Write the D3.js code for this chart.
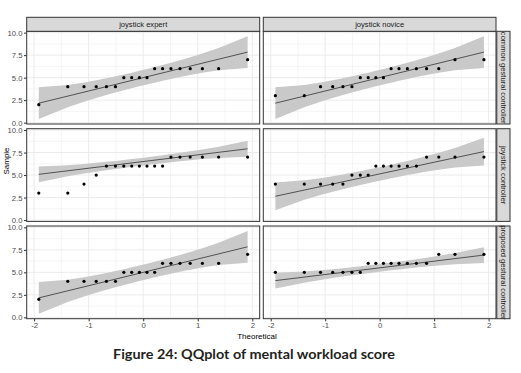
<!DOCTYPE html>
<html>
<head>
<meta charset="utf-8">
<script src="https://cdn.jsdelivr.net/npm/d3@7"></script>
<style>
  body { margin: 0; background: #fff; }
  svg { display: block; }
</style>
</head>
<body>
<svg id="chart" width="521" height="373"></svg>
<script>
// facet labels
var colLabels = ["joystick expert", "joystick novice"];
var rowLabels = ["common gestural controller", "joystick controller", "proposed gestural controller"];

// sample scores per panel (sorted)
var expertCommon   = [2,4,4,4,4,4,5,5,5,5,6,6,6,6,6,6,6,7];
var noviceCommon   = [3,3,4,4,4,4,5,5,5,5,6,6,6,6,6,6,7,7];
var expertJoystick = [3,3,4,5,6,6,6,6,6,6,6,6,7,7,7,7,7,7];
var noviceJoystick = [4,4,4,4,4,5,5,5,6,6,6,6,6,6,7,7,7,7];
var expertProposed = [2,4,4,4,4,4,5,5,5,5,5,6,6,6,6,6,6,7];
var noviceProposed = [5,5,5,5,5,5,5,6,6,6,6,6,6,6,6,7,7,7];

var xTicks = [-2, -1, 0, 1, 2];
var yTicks = [0, 2.5, 5, 7.5, 10];
var yTickLabels = ["0.0", "2.5", "5.0", "7.5", "10.0"];

var panels = [
  [expertCommon, noviceCommon],
  [expertJoystick, noviceJoystick],
  [expertProposed, noviceProposed]
];

// inverse normal cdf (Acklam)
function qnorm(p) {
  var a = [-39.69683028665376, 220.9460984245205, -275.9285104469687, 138.3577518672690, -30.66479806614716, 2.506628277459239],
      b = [-54.47609879822406, 161.5858368580409, -155.6989798598866, 66.80131188771972, -13.28068155288572],
      c = [-0.007784894002430293, -0.3223964580411365, -2.400758277161838, -2.549732539343734, 4.374664141464968, 2.938163982698783],
      d = [0.007784695709041462, 0.3224671290700398, 2.445134137142996, 3.754408661907416];
  var q, r;
  if (p < 0.02425) {
    q = Math.sqrt(-2 * Math.log(p));
    return (((((c[0]*q+c[1])*q+c[2])*q+c[3])*q+c[4])*q+c[5]) / ((((d[0]*q+d[1])*q+d[2])*q+d[3])*q+1);
  }
  if (p > 1 - 0.02425) {
    q = Math.sqrt(-2 * Math.log(1 - p));
    return -(((((c[0]*q+c[1])*q+c[2])*q+c[3])*q+c[4])*q+c[5]) / ((((d[0]*q+d[1])*q+d[2])*q+d[3])*q+1);
  }
  q = p - 0.5; r = q * q;
  return (((((a[0]*r+a[1])*r+a[2])*r+a[3])*r+a[4])*r+a[5])*q / (((((b[0]*r+b[1])*r+b[2])*r+b[3])*r+b[4])*r+1);
}
function dnorm(z) { return Math.exp(-z * z / 2) / Math.sqrt(2 * Math.PI); }

// qq stats: theoretical quantiles, line through quartiles, pointwise 95% band
function qqStats(values) {
  var n = values.length;
  var s = values.slice().sort(d3.ascending);
  var q1 = d3.quantile(s, 0.25), q3 = d3.quantile(s, 0.75);
  var z1 = qnorm(0.25), z3 = qnorm(0.75);
  var slope = (q3 - q1) / (z3 - z1), icpt = q1 - slope * z1;
  var crit = qnorm(0.975);
  return s.map(function(v, i) {
    var p = (i + 1 - 0.5) / n, z = qnorm(p);
    var fit = icpt + slope * z;
    var se = slope / dnorm(z) * Math.sqrt(p * (1 - p) / n);
    return {x: z, y: v, fit: fit, lo: fit - crit * se, hi: fit + crit * se};
  });
}

var svg = d3.select("#chart");
var colX = [[26.7, 259.7], [263.3, 496]];
var rowY = [[31.3, 124], [128.7, 221.4], [226, 318.7]];

var gridCol = "#ebebeb", borderCol = "#333333";

panels.forEach(function(row, ri) {
  row.forEach(function(vals, ci) {
    var x = d3.scaleLinear().domain([-2.136, 2.136]).range(colX[ci]);
    var y = d3.scaleLinear().domain([-0.15, 10.15]).range([rowY[ri][1], rowY[ri][0]]);
    var g = svg.append("g");
    var stats = qqStats(vals);

    g.append("rect")
      .attr("x", colX[ci][0]).attr("y", rowY[ri][0])
      .attr("width", colX[ci][1] - colX[ci][0]).attr("height", rowY[ri][1] - rowY[ri][0])
      .attr("fill", "#fff");

    // minor + major grid
    var xMinor = [-1.5, -0.5, 0.5, 1.5], yMinor = [1.25, 3.75, 6.25, 8.75];
    g.selectAll(".gxm").data(xMinor).enter().append("line")
      .attr("x1", x).attr("x2", x).attr("y1", rowY[ri][0]).attr("y2", rowY[ri][1])
      .attr("stroke", gridCol).attr("stroke-width", 0.5);
    g.selectAll(".gym").data(yMinor).enter().append("line")
      .attr("y1", y).attr("y2", y).attr("x1", colX[ci][0]).attr("x2", colX[ci][1])
      .attr("stroke", gridCol).attr("stroke-width", 0.5);
    g.selectAll(".gx").data(xTicks).enter().append("line")
      .attr("x1", x).attr("x2", x).attr("y1", rowY[ri][0]).attr("y2", rowY[ri][1])
      .attr("stroke", gridCol).attr("stroke-width", 1);
    g.selectAll(".gy").data(yTicks).enter().append("line")
      .attr("y1", y).attr("y2", y).attr("x1", colX[ci][0]).attr("x2", colX[ci][1])
      .attr("stroke", gridCol).attr("stroke-width", 1);

    // band
    g.append("path")
      .datum(stats)
      .attr("d", d3.area().x(function(d) { return x(d.x); })
        .y0(function(d) { return y(d.lo); }).y1(function(d) { return y(d.hi); }))
      .attr("fill", "#c9c9c9");

    // reference line
    g.append("path")
      .datum([stats[0], stats[stats.length - 1]])
      .attr("d", d3.line().x(function(d) { return x(d.x); }).y(function(d) { return y(d.fit); }))
      .attr("stroke", "#000").attr("stroke-width", 0.6).attr("fill", "none");

    g.selectAll("circle").data(stats).enter().append("circle")
      .attr("cx", function(d) { return x(d.x); })
      .attr("cy", function(d) { return y(d.y); })
      .attr("r", 1.6).attr("fill", "#000");

    g.append("rect")
      .attr("x", colX[ci][0]).attr("y", rowY[ri][0])
      .attr("width", colX[ci][1] - colX[ci][0]).attr("height", rowY[ri][1] - rowY[ri][0])
      .attr("fill", "none").attr("stroke", borderCol).attr("stroke-width", 1);

    // axes
    if (ci == 0) {
      g.append("g")
        .attr("transform", "translate(" + colX[0][0] + ",0)")
        .call(d3.axisLeft(y).tickValues(yTicks).tickSize(2.7).tickPadding(1.5)
          .tickFormat(function(d, i) { return yTickLabels[i]; }))
        .call(function(a) {
          a.select(".domain").remove();
          a.selectAll("line").attr("stroke", borderCol);
          a.selectAll("text").attr("fill", "#4d4d4d").attr("font-size", 7.7)
            .attr("font-family", "Liberation Sans, Arial, sans-serif");
        });
    }
    if (ri == 2) {
      g.append("g")
        .attr("transform", "translate(0," + rowY[2][1] + ")")
        .call(d3.axisBottom(x).tickValues(xTicks).tickSize(2.7).tickPadding(1.5))
        .call(function(a) {
          a.select(".domain").remove();
          a.selectAll("line").attr("stroke", borderCol);
          a.selectAll("text").attr("fill", "#4d4d4d").attr("font-size", 7.7)
            .attr("font-family", "Liberation Sans, Arial, sans-serif")
            .text(function(d) { return d < 0 ? "-" + Math.abs(d) : d; });
        });
    }
  });
});

// top strips
colLabels.forEach(function(lab, ci) {
  svg.append("rect")
    .attr("x", colX[ci][0]).attr("y", 17.3)
    .attr("width", colX[ci][1] - colX[ci][0]).attr("height", 14)
    .attr("fill", "#d9d9d9").attr("stroke", borderCol).attr("stroke-width", 1);
  svg.append("text")
    .attr("x", (colX[ci][0] + colX[ci][1]) / 2).attr("y", 24.3).attr("dy", "0.35em")
    .attr("text-anchor", "middle").attr("font-size", 7.6).attr("fill", "#1a1a1a")
    .attr("font-family", "Liberation Sans, Arial, sans-serif")
    .text(lab);
});

// right strips
rowLabels.forEach(function(lab, ri) {
  svg.append("rect")
    .attr("x", 496.8).attr("y", rowY[ri][0])
    .attr("width", 13.2).attr("height", rowY[ri][1] - rowY[ri][0])
    .attr("fill", "#d9d9d9").attr("stroke", borderCol).attr("stroke-width", 1);
  svg.append("text")
    .attr("transform", "translate(503.4," + (rowY[ri][0] + rowY[ri][1]) / 2 + ") rotate(90)")
    .attr("dy", "0.35em")
    .attr("text-anchor", "middle").attr("font-size", 7.6).attr("fill", "#1a1a1a")
    .attr("font-family", "Liberation Sans, Arial, sans-serif")
    .text(lab);
});

// axis titles
svg.append("text")
  .attr("transform", "translate(9,161) rotate(-90)")
  .attr("text-anchor", "middle").attr("font-size", 8)
  .attr("font-family", "Liberation Sans, Arial, sans-serif")
  .text("Sample");
svg.append("text")
  .attr("x", 257).attr("y", 338.5)
  .attr("text-anchor", "middle").attr("font-size", 8)
  .attr("font-family", "Liberation Sans, Arial, sans-serif")
  .text("Theoretical");

// caption
svg.append("text")
  .attr("x", 254).attr("y", 359)
  .attr("text-anchor", "middle").attr("font-size", 13).attr("font-weight", "bold")
  .attr("fill", "#231f20")
  .attr("font-family", "Lato, sans-serif")
  .attr("textLength", 282).attr("lengthAdjust", "spacingAndGlyphs")
  .text("Figure 24: QQplot of mental workload score");
</script>
</body>
</html>
